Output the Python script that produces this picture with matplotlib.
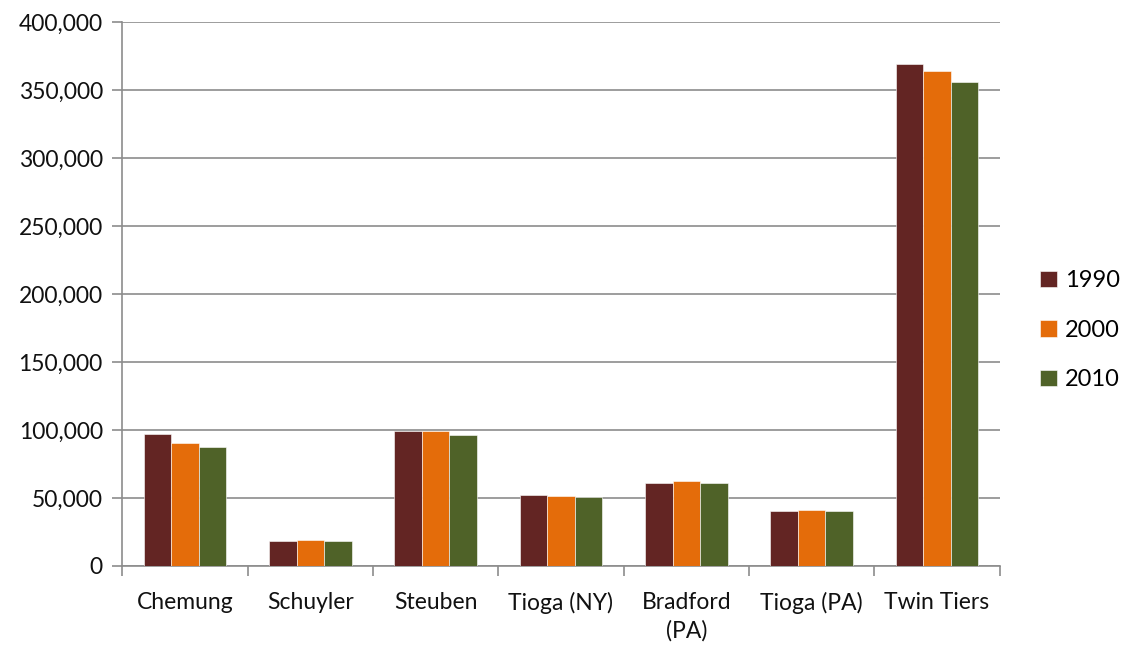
import numpy as np
import matplotlib.pyplot as plt
from matplotlib.ticker import FuncFormatter, FixedLocator

# county population by census year
counties = ['Chemung', 'Schuyler', 'Steuben', 'Tioga (NY)', 'Bradford\n(PA)', 'Tioga (PA)', 'Twin Tiers']
years = ['1990', '2000', '2010']
pop_1990 = [97000, 18400, 98900, 52000, 60900, 40700, 369000]
pop_2000 = [90300, 18900, 98900, 51500, 62400, 41100, 364000]
pop_2010 = [87500, 18400, 96600, 51000, 60900, 40200, 355500]
colors = ['#632523', '#E46C0A', '#4F6228']

plt.rcParams['font.family'] = ['Lato', 'DejaVu Sans']

fig = plt.figure(figsize=(11.22, 6.45), dpi=100)
ax = fig.add_axes([0.109, 0.1225, 0.782, 0.8435])

x = np.arange(len(counties))
w = 0.22
for i, (vals, lab) in enumerate(zip([pop_1990, pop_2000, pop_2010], years)):
    ax.bar(x + (i - 1) * w, vals, w, color=colors[i], label=lab, zorder=3,
           edgecolor='white', linewidth=0.4)

ax.set_xlim(-0.5, len(counties) - 0.5)
ax.set_ylim(0, 400000)
ax.set_yticks(np.arange(0, 400001, 50000))
ax.yaxis.set_major_formatter(FuncFormatter(lambda v, p: '{:,.0f}'.format(v)))
ax.grid(axis='y', color='#8c8c8c', linewidth=1.2, zorder=0)

ax.set_xticks(x)
ax.set_xticklabels(counties, fontsize=16.5, color='#111111', linespacing=1.4)
ax.xaxis.set_minor_locator(FixedLocator(np.arange(-0.5, len(counties), 1)))
ax.tick_params(axis='x', which='major', length=0, pad=19)
ax.tick_params(axis='x', which='minor', length=7, color='#8c8c8c', width=1.2)
ax.tick_params(axis='y', length=7, color='#8c8c8c', width=1.2, labelsize=16.5,
               labelcolor='#111111', pad=7)

for s in ['top', 'right']:
    ax.spines[s].set_visible(False)
for s in ['left', 'bottom']:
    ax.spines[s].set_color('#8c8c8c')
    ax.spines[s].set_linewidth(1.2)

leg = fig.legend(loc='center left', bbox_to_anchor=(0.927, 0.488), frameon=False,
                 fontsize=17, handlelength=0.7, handleheight=0.7,
                 handletextpad=0.35, labelspacing=1.2, borderpad=0, borderaxespad=0)

fig.savefig('out.png', dpi=100)
